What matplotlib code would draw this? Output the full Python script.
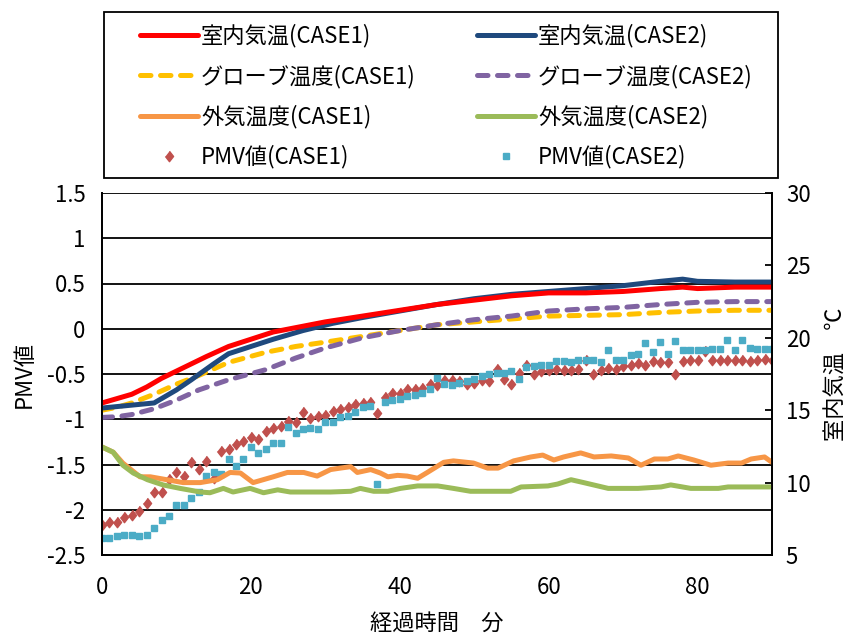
import matplotlib

matplotlib.use("Agg")

import matplotlib.pyplot as plt
from matplotlib.lines import Line2D
from matplotlib.patches import Rectangle
import numpy as np

plt.rcParams["font.family"] = ["Noto Sans CJK JP", "DejaVu Sans"]
plt.rcParams["font.size"] = 16

# ---- data --------------------------------------------------------------
minutes = list(range(0, 91))

pmv_case1 = [
    -2.17, -2.14, -2.13, -2.08, -2.06, -2.01, -1.93, -1.80, -1.80, -1.66,
    -1.58, -1.63, -1.47, -1.55, -1.46, -1.65, -1.35, -1.33, -1.27, -1.24,
    -1.20, -1.22, -1.13, -1.10, -1.07, -1.02, -1.03, -0.92, -0.99, -0.96,
    -0.95, -0.91, -0.89, -0.86, -0.83, -0.82, -0.81, -0.93, -0.75, -0.71,
    -0.71, -0.67, -0.67, -0.65, -0.61, -0.62, -0.57, -0.57, -0.58, -0.61,
    -0.60, -0.57, -0.58, -0.45, -0.55, -0.61, -0.49, -0.40, -0.50, -0.47,
    -0.46, -0.45, -0.46, -0.46, -0.44, -0.34, -0.50, -0.46, -0.43, -0.44,
    -0.41, -0.40, -0.38, -0.40, -0.36, -0.37, -0.37, -0.50, -0.36, -0.35,
    -0.35, -0.25, -0.34, -0.34, -0.34, -0.34, -0.34, -0.36, -0.34, -0.33,
    -0.34,
]
pmv_case2 = [
    -2.31, -2.31, -2.29, -2.28, -2.28, -2.29, -2.28, -2.20, -2.11, -2.07,
    -1.95, -1.95, -1.87, -1.80, -1.63, -1.58, -1.61, -1.44, -1.52, -1.44,
    -1.31, -1.37, -1.33, -1.26, -1.26, -1.09, -1.15, -1.11, -1.10, -1.11,
    -1.03, -1.03, -0.97, -0.96, -0.92, -0.87, -0.85, -1.72, -0.81, -0.79,
    -0.78, -0.74, -0.73, -0.71, -0.67, -0.54, -0.61, -0.62, -0.60, -0.58,
    -0.56, -0.52, -0.50, -0.49, -0.49, -0.47, -0.56, -0.42, -0.41, -0.40,
    -0.40, -0.36, -0.36, -0.37, -0.35, -0.35, -0.35, -0.37, -0.23, -0.35,
    -0.35, -0.29, -0.28, -0.16, -0.26, -0.15, -0.28, -0.14, -0.24, -0.23,
    -0.23, -0.23, -0.22, -0.22, -0.12, -0.23, -0.12, -0.21, -0.22, -0.22,
    -0.22,
]

room_t = [0, 2, 4, 6, 8, 10, 12, 14, 17, 20, 23, 26, 30, 35, 40, 45, 50, 55,
          60, 65, 70, 75, 78, 80, 85, 90]
room1 = [15.5, 15.8, 16.1, 16.6, 17.2, 17.7, 18.2, 18.7, 19.4, 19.9, 20.4, 20.7,
         21.1, 21.5, 21.9, 22.3, 22.6, 22.9, 23.1, 23.1, 23.2, 23.4, 23.5, 23.4,
         23.5, 23.5]
room2_t = [0, 3, 7, 10, 12, 15, 17, 20, 23, 27, 31, 35, 40, 45, 50, 55, 60, 65,
           70, 75, 78, 80, 85, 90]
room2 = [15.15, 15.3, 15.5, 16.4, 17.1, 18.2, 18.9, 19.4, 19.9, 20.5, 21.0, 21.4,
         21.85, 22.3, 22.7, 23.0, 23.2, 23.4, 23.6, 23.9, 24.05, 23.9, 23.85, 23.85]

globe_t = [0, 2, 4, 7, 10, 13, 17, 22, 26, 30, 35, 40, 45, 50, 55, 60, 65, 70,
           75, 80, 85, 90]
globe1 = [15.0, 15.2, 15.5, 16.1, 16.8, 17.4, 18.3, 19.0, 19.4, 19.7, 20.1, 20.5,
          20.9, 21.1, 21.3, 21.5, 21.55, 21.6, 21.75, 21.85, 21.9, 21.9]
globe2 = [14.5, 14.55, 14.7, 15.1, 15.7, 16.4, 17.1, 17.8, 18.6, 19.3, 20.0, 20.5,
          20.9, 21.25, 21.5, 21.85, 22.0, 22.1, 22.3, 22.45, 22.5, 22.5]

out1_t = [0, 1.5, 2.8, 5.1, 6.5, 8.7, 10.9, 13.2, 15.5, 17.2, 18.6, 20.3, 23.0,
          24.9, 27.1, 28.9, 30.7, 32.0, 33.4, 34.3, 36.1, 37.4, 38.4, 39.7, 41.0,
          42.4, 43.7, 45.9, 47.2, 49.9, 51.8, 53.2, 55.3, 57.6, 59.2, 60.7, 62.0,
          64.3, 66.1, 68.4, 70.7, 72.4, 74.2, 76.0, 77.4, 79.5, 81.8, 84.1, 85.9,
          87.2, 89.0, 90]
out1 = [12.46, 12.1, 11.35, 10.4, 10.4, 10.2, 10.0, 10.0, 10.2, 10.7, 10.66, 10.0,
        10.4, 10.7, 10.7, 10.45, 10.9, 11.0, 11.1, 10.7, 10.9, 10.66, 10.4, 10.5,
        10.45, 10.3, 10.7, 11.4, 11.5, 11.35, 11.0, 11.0, 11.5, 11.77, 11.9, 11.56,
        11.77, 12.05, 11.77, 11.84, 11.7, 11.2, 11.63, 11.63, 11.84, 11.56, 11.2,
        11.35, 11.35, 11.63, 11.77, 11.4]

out2_t = [0, 1.5, 2.8, 4.2, 6.1, 8.2, 10.5, 13.2, 14.5, 16.3, 17.6, 19.9, 21.7,
          23.6, 25.3, 30.7, 33.4, 34.7, 36.5, 38.4, 40.1, 42.4, 45.1, 47.2, 49.5,
          54.9, 56.3, 59.9, 61.2, 63.0, 64.7, 68.0, 72.0, 75.1, 76.4, 79.1, 82.8,
          84.1, 90]
out2 = [12.46, 12.1, 11.2, 10.66, 10.2, 9.84, 9.6, 9.35, 9.3, 9.6, 9.35, 9.6, 9.3,
        9.5, 9.35, 9.35, 9.4, 9.6, 9.4, 9.4, 9.6, 9.77, 9.77, 9.6, 9.4, 9.4, 9.7,
        9.77, 9.9, 10.2, 10.0, 9.6, 9.6, 9.7, 9.84, 9.6, 9.6, 9.7, 9.7]

labels = [
    "室内気温(CASE1)", "グローブ温度(CASE1)", "外気温度(CASE1)", "PMV値(CASE1)",
    "室内気温(CASE2)", "グローブ温度(CASE2)", "外気温度(CASE2)", "PMV値(CASE2)",
]

RED = "#FF0000"
NAVY = "#1F497D"
GOLD = "#FFC000"
PURPLE = "#8064A2"
ORANGE = "#F79646"
GREEN = "#9BBB59"
DIAMOND = "#C0504D"
SQUARE = "#4BACC6"

W, H = 856, 643
fig = plt.figure(figsize=(W / 100, H / 100), dpi=100, facecolor="white")
ax = fig.add_axes([102 / W, 1 - 555 / H, 670 / W, 362 / H])
ax2 = ax.twinx()

diamond = [(0, 1), (0.78, 0), (0, -1), (-0.78, 0)]
ax.plot(minutes, pmv_case1, ls="none", marker=diamond, ms=7.5, color=DIAMOND, mec=DIAMOND)
ax.plot(minutes, pmv_case2, ls="none", marker="s", ms=5, color=SQUARE, mec=SQUARE)

LW = 3.6
DASH = (2.1, 1.9)
ax2.plot(out1_t, out1, color=ORANGE, lw=LW, solid_capstyle="round")
ax2.plot(out2_t, out2, color=GREEN, lw=LW, solid_capstyle="round")
ax2.plot(globe_t, globe1, color=GOLD, lw=LW, dashes=DASH, dash_capstyle="round")
ax2.plot(globe_t, globe2, color=PURPLE, lw=LW, dashes=DASH, dash_capstyle="round")
ax2.plot(room2_t, room2, color=NAVY, lw=LW, solid_capstyle="round")
ax2.plot(room_t, room1, color=RED, lw=LW, solid_capstyle="round")

ax.set_xlim(0, 90)
ax.set_ylim(-2.5, 1.5)
ax.set_xticks([0, 20, 40, 60, 80])
ax.set_yticks(np.arange(-2.5, 1.51, 0.5))
ax.set_yticklabels(["-2.5", "-2", "-1.5", "-1", "-0.5", "0", "0.5", "1", "1.5"])
ax.grid(axis="y", color="black", lw=1.3)
ax.set_axisbelow(True)
ax.tick_params(axis="y", length=0, pad=12, labelsize=16)
ax.tick_params(axis="x", length=0, pad=15, labelsize=16)
ax2.set_ylim(5, 30)
ax2.set_yticks([5, 10, 15, 20, 25, 30])
ax2.tick_params(axis="y", direction="in", length=5, width=1.3, pad=10, labelsize=16)
for a in (ax, ax2):
    for side in ("top", "right", "left", "bottom"):
        a.spines[side].set_color("black")
        a.spines[side].set_linewidth(1.3)
ax.spines["top"].set_visible(False)
ax2.spines["top"].set_visible(False)

ax.set_xlabel("経過時間　分", fontsize=16, labelpad=9)
ax.set_ylabel("PMV値", fontsize=16, labelpad=8)
ax2.set_ylabel("室内気温　℃", fontsize=16, labelpad=10)

# legend: frame drawn separately, entries in two columns
fig.patches.append(Rectangle((104 / W, 1 - 178 / H), 674 / W, 166 / H,
                             transform=fig.transFigure, fill=False,
                             edgecolor="black", lw=1.3))


def handle(color, dashed=False, marker=None, ms=None):
    if marker is not None:
        return Line2D([], [], ls="none", marker=marker, ms=ms, color=color, mec=color)
    if dashed:
        return Line2D([], [], color=color, lw=LW, dashes=DASH, dash_capstyle="round")
    return Line2D([], [], color=color, lw=LW, solid_capstyle="round")


col1 = [handle(RED), handle(GOLD, True), handle(ORANGE),
        handle(DIAMOND, marker=diamond, ms=7.5)]
col2 = [handle(NAVY), handle(PURPLE, True), handle(GREEN),
        handle(SQUARE, marker="s", ms=5)]
kw = dict(loc="upper left", frameon=False, borderpad=0, borderaxespad=0,
          handlelength=2.6, handletextpad=0.15, labelspacing=0.75, numpoints=1,
          fontsize=16)
leg1 = fig.legend(col1, labels[:4], bbox_to_anchor=(140 / W, 1 - 24 / H), **kw)
leg2 = fig.legend(col2, labels[4:], bbox_to_anchor=(477 / W, 1 - 24 / H), **kw)

fig.savefig("out.png", dpi=100, facecolor="white")
